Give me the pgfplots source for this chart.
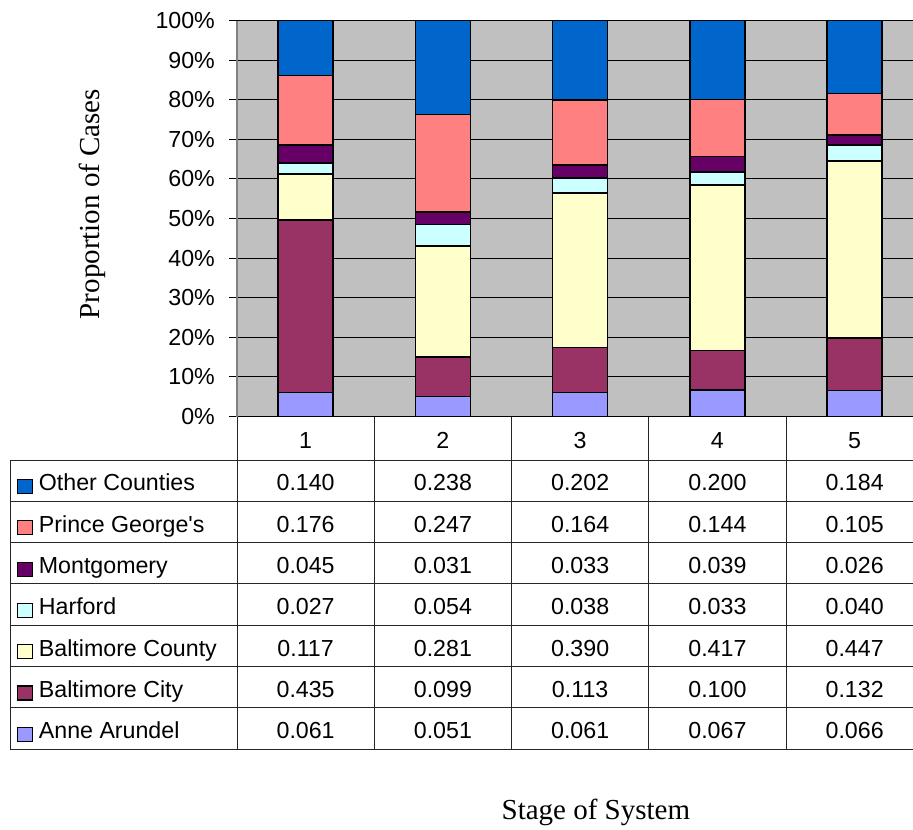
\documentclass[border=0pt]{standalone}
\usepackage{pgfplots}
\usepackage{pgfplotstable}
\pgfplotsset{compat=1.18}
\usepackage{fontspec}
\setmainfont{Liberation Sans}
\newfontfamily\titlefont{Liberation Serif}

\definecolor{bggray}{HTML}{C0C0C0}
\definecolor{cOther}{HTML}{0066CC}
\definecolor{cPG}{HTML}{FF8080}
\definecolor{cMont}{HTML}{660066}
\definecolor{cHarford}{HTML}{CCFFFF}
\definecolor{cBCounty}{HTML}{FFFFCC}
\definecolor{cBCity}{HTML}{993366}
\definecolor{cAA}{HTML}{9999FF}

% proportion of cases by county, for each stage of the system
\pgfplotstableread{
stage aa    bcity bcounty harford mont  pg    other
1     0.061 0.435 0.117   0.027   0.045 0.176 0.140
2     0.051 0.099 0.281   0.054   0.031 0.247 0.238
3     0.061 0.113 0.390   0.038   0.033 0.164 0.202
4     0.067 0.100 0.417   0.033   0.039 0.144 0.200
5     0.066 0.132 0.447   0.040   0.026 0.105 0.184
}\stagedata

\begin{document}
\fontsize{11.6}{14}\selectfont
\begin{tikzpicture}
\useasboundingbox (0,0) rectangle (456.5pt,-414.5pt);
\begin{axis}[
  at={(118.5pt,-208.25pt)}, anchor=south west,
  scale only axis, width=343.125pt, height=198pt,
  ybar stacked, bar width=27.5pt,
  xmin=0.5, xmax=5.5, ymin=0, ymax=1,
  xtick=\empty,
  ytick={0,0.1,0.2,0.3,0.4,0.5,0.6,0.7,0.8,0.9,1},
  yticklabels={0\%,10\%,20\%,30\%,40\%,50\%,60\%,70\%,80\%,90\%,100\%},
  yticklabel style={font=\fontsize{11.6}{14}\selectfont, xshift=-3pt},
  axis background/.style={fill=bggray},
  ymajorgrids, grid style={black, line width=0.5pt},
  axis x line*=bottom, axis y line*=left,
  x axis line style={black, line width=0.6pt},
  y axis line style={gray, line width=0.6pt},
  tick align=outside, major tick length=4pt,
  ytick style={black, line width=0.5pt},
  ylabel={Proportion of Cases},
  ylabel style={font=\titlefont\fontsize{14.5}{17}\selectfont,
    at={(axis description cs:-0.2113,0.5366)}, anchor=center},
  xlabel={Stage of System},
  xlabel style={font=\titlefont\fontsize{14.5}{17}\selectfont,
    at={(axis description cs:0.523,-0.9987)}, anchor=center},
  every axis plot/.append style={draw=black, line width=0.75pt},
]
\addplot[fill=cAA]      table[x=stage, y=aa]      {\stagedata};
\addplot[fill=cBCity]   table[x=stage, y=bcity]   {\stagedata};
\addplot[fill=cBCounty] table[x=stage, y=bcounty] {\stagedata};
\addplot[fill=cHarford] table[x=stage, y=harford] {\stagedata};
\addplot[fill=cMont]    table[x=stage, y=mont]    {\stagedata};
\addplot[fill=cPG]      table[x=stage, y=pg]      {\stagedata};
\addplot[fill=cOther]   table[x=stage, y=other]   {\stagedata};
\end{axis}

% data table beneath the chart (pixel-style coordinates, y downwards)
\begin{scope}[x=0.5pt, y=-0.5pt]
  \def\colw{137.25}
  \def\rowh{41.3}
  % grid of the table
  \foreach \k in {0,...,7}
    \draw[black!85, line width=0.5pt] (10,{460+\k*\rowh}) -- (930,{460+\k*\rowh});
  \draw[black!85, line width=0.5pt] (10,460) -- (10,{460+7*\rowh});
  \foreach \k in {0,...,5}
    \draw[black!85, line width=0.5pt] ({237+\k*\colw},416.5) -- ({237+\k*\colw},{460+7*\rowh});
  % stage numbers
  \foreach \i in {1,...,5}
    \node[anchor=base, inner sep=0pt] at ({237+(\i-0.5)*\colw},448.5) {\i};
  % series rows: key, name and values
  \foreach \col/\clr/\name [count=\r from 0] in {
      other/cOther/Other Counties,
      pg/cPG/Prince George\textquotesingle s,
      mont/cMont/Montgomery,
      harford/cHarford/Harford,
      bcounty/cBCounty/Baltimore County,
      bcity/cBCity/Baltimore City,
      aa/cAA/Anne Arundel} {
    \pgfmathsetmacro\ytop{460+\r*\rowh}
    \draw[black, line width=0.6pt, fill=\clr] (17.5,\ytop+19.5) rectangle (32.5,\ytop+33.5);
    \node[anchor=base west, inner sep=0pt] at (38.5,\ytop+30.8) {\name};
    \foreach \i in {0,...,4} {
      \pgfplotstablegetelem{\i}{\col}\of\stagedata
      \node[anchor=base, inner sep=0pt] at ({237+(\i+0.5)*\colw},\ytop+30.8)
        {\pgfmathprintnumber[fixed, fixed zerofill, precision=3, assume math mode=true]{\pgfplotsretval}};
    }
  }
\end{scope}
\end{tikzpicture}
\end{document}
